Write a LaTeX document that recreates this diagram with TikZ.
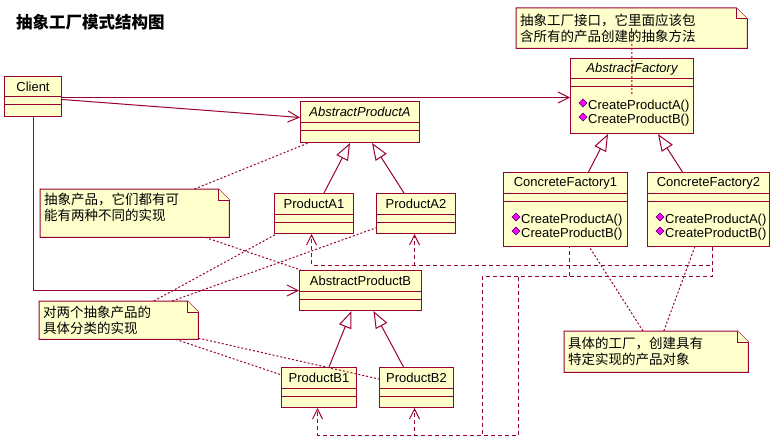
\documentclass[tikz,border=0pt]{standalone}
\usepackage{fontspec}
\setmainfont{Liberation Sans}
\newfontfamily\cjk{Noto Sans CJK SC}
\usetikzlibrary{arrows.meta,calc,backgrounds,positioning,shapes}
\definecolor{umlred}{RGB}{153,0,51}
\definecolor{umlfill}{RGB}{255,255,204}
\definecolor{opfill}{RGB}{255,0,255}
\definecolor{opedge}{RGB}{70,0,90}
\newcommand{\umlfont}{\fontsize{13}{15}\selectfont}
\newcommand{\notefont}{\cjk\fontsize{13.5}{16}\selectfont}
% class box: name, top left, width, height, label
\newcommand{\umlclass}[5]{%
  \node[classbox={#3,#4}] (#1) at (#2) {};
  \node[classname] (#1-name) at ([yshift=-11pt]#1.north) {#5};
  \draw[compart] ([yshift=-21pt]#1.north west) -- ([yshift=-21pt]#1.north east)
                 ([yshift=-29pt]#1.north west) -- ([yshift=-29pt]#1.north east);
}
% the two operations of a factory
\newcommand{\opers}[1]{%
  \node[oper] (#1-opa) at ([xshift=18pt,yshift=-48pt]#1.north west) {CreateProductA()};
  \node[oper] (#1-opb) at ([xshift=18pt,yshift=-62pt]#1.north west) {CreateProductB()};
  \filldraw[opmark] ([xshift=-5pt,yshift=3pt]#1-opa.west) ++(-4,0) -- ++(4,-4) -- ++(4,4) -- ++(-4,4) -- cycle;
  \filldraw[opmark] ([xshift=-5pt,yshift=3pt]#1-opb.west) ++(-4,0) -- ++(4,-4) -- ++(4,4) -- ++(-4,4) -- cycle;
}
% paper of a note, with its folded corner
\newcommand{\notefold}[1]{%
  \begin{scope}[on background layer]
    \filldraw[notepaper] (#1.north west) -- ([xshift=-11pt]#1.north east) -- ([yshift=-11pt]#1.north east)
      -- (#1.south east) -- (#1.south west) -- cycle;
    \draw[notepaper] ([xshift=-11pt]#1.north east) |- ([yshift=-11pt]#1.north east);
  \end{scope}
}
\tikzset{
  classbox/.style args={#1,#2}{
  anchor=north west,
  draw=umlred,
  fill=umlfill,
  line width=1pt,
  inner sep=0pt,
  minimum width=#1pt,
  minimum height=#2pt,
  },
  classname/.style={inner sep=0pt,font=\umlfont},
  compart/.style={draw=umlred,line width=1pt},
  oper/.style={anchor=west,inner sep=0pt,font=\umlfont},
  opmark/.style={fill=opfill,draw=opedge,line width=0.6pt},
  notebox/.style args={#1,#2}{
  anchor=north west,
  inner xsep=4pt,
  inner ysep=2pt,
  text width=#1pt,
  minimum height=#2pt,
  align=left,
  font=\notefont
  },
  notepaper/.style={draw=umlred,fill=umlfill,line width=1pt},
  notelink/.style={draw=umlred,line width=1pt,dash pattern=on 2pt off 2pt},
  assoc/.style={draw=umlred,line width=1pt,-{Straight Barb[length=11pt,width=11pt]}},
  dep/.style={draw=umlred,line width=1pt,dash pattern=on 4pt off 3pt,-{Straight Barb[length=10pt,width=10pt]}},
  gen/.style={draw=umlred,line width=1pt,-{Triangle[open,length=17pt,width=13pt]}},
  title/.style={anchor=west,inner sep=0pt,font=\cjk\bfseries\fontsize{16.5}{18}\selectfont}
}
\begin{document}
\begin{tikzpicture}[x=1pt,y=-1pt]
  \useasboundingbox (0,0) rectangle (777,444);
  \begin{scope}[on background layer]
    \fill[white] (0,0) rectangle (777,444);
  \end{scope}
  \node[title] (title) at (16,22) {抽象工厂模式结构图};
  % classes
  \umlclass{client}{4,76}{57}{40}{Client}
  \umlclass{apa}{300,101}{119}{41}{\itshape AbstractProductA}
  \umlclass{pa1}{274,193}{79}{40}{ProductA1}
  \umlclass{pa2}{376,193}{79}{40}{ProductA2}
  \umlclass{apb}{299,270}{122}{40}{AbstractProductB}
  \umlclass{pb1}{281,367}{75}{40}{ProductB1}
  \umlclass{pb2}{379,367}{74}{40}{ProductB2}
  \umlclass{af}{570,58}{123}{75}{\itshape AbstractFactory}
  \umlclass{cf1}{503,172}{124}{74}{ConcreteFactory1}
  \umlclass{cf2}{647,172}{122}{74}{ConcreteFactory2}
  \opers{af}
  \opers{cf1}
  \opers{cf2}
  % notes
  \node[notebox={223,40}] (n1) at (516,8) {抽象工厂接口，它里面应该包\\含所有的产品创建的抽象方法};
  \notefold{n1}
  \node[notebox={181,48},text height=13pt,text depth=31pt] (n2) at (40,189) {抽象产品，它们都有可\\能有两种不同的实现};
  \notefold{n2}
  \node[notebox={151,38}] (n3) at (39,301) {对两个抽象产品的\\具体分类的实现};
  \notefold{n3}
  \node[notebox={176,41}] (n4) at (564,331) {具体的工厂，创建具有\\特定实现的产品对象};
  \notefold{n4}
  % client uses
  \draw[assoc] ([yshift=-1pt]client.east) -- ([yshift=-1pt]client.east -| af.west);
  \draw[assoc] ([yshift=-3pt]client.east) -- ([yshift=4.5pt]apa.west);
  \draw[assoc] (client.south) |- (apb.west);
  % inheritance
  \draw[gen] ([xshift=10pt]pa1.north) -- ([xshift=-10pt]apa.south);
  \draw[gen] ([xshift=-12pt]pa2.north) -- ([xshift=12pt]apa.south);
  \draw[gen] ([xshift=10pt]pb1.north) -- ([xshift=-9pt]apb.south);
  \draw[gen] ([xshift=-13pt]pb2.north) -- ([xshift=13pt]apb.south);
  \draw[gen] ([xshift=23pt]cf1.north) -- ([xshift=-24pt]af.south);
  \draw[gen] ([xshift=-26pt]cf2.north) -- ([xshift=26pt]af.south);
  % factories create products
  \draw[dep,dash phase=3pt] ([xshift=4pt]cf1.south) -- ++(0,18) -| ([xshift=-2.5pt]pa1.south);
  \draw[dep] ([xshift=4pt]cf2.south) -- ++(0,18) -| ([xshift=-1.5pt]pa2.south);
  \draw[dep,dash phase=3pt] ([xshift=4pt]cf1.south) -- ++(0,29) -- ++(-87,0) -- ++(0,159) -| ([xshift=-1.5pt]pb1.south);
  \draw[dep] ([xshift=4pt]cf2.south) -- ++(0,29) -- ++(-194,0) -- ++(0,159) -| ([xshift=-2pt]pb2.south);
  % note links
  \draw[notelink] (n2) -- (apa);
  \draw[notelink] (n2) -- (apb);
  \draw[notelink] (n3) -- (pa1);
  \draw[notelink] (n3) -- (pa2);
  \draw[notelink] (n3) -- (pb1);
  \draw[notelink] (n3) -- (pb2);
  \draw[notelink] (n4) -- (cf1);
  \draw[notelink] (n4) -- (cf2);
  \draw[notelink] (n1.center) -- (af.center);
\end{tikzpicture}
\end{document}
